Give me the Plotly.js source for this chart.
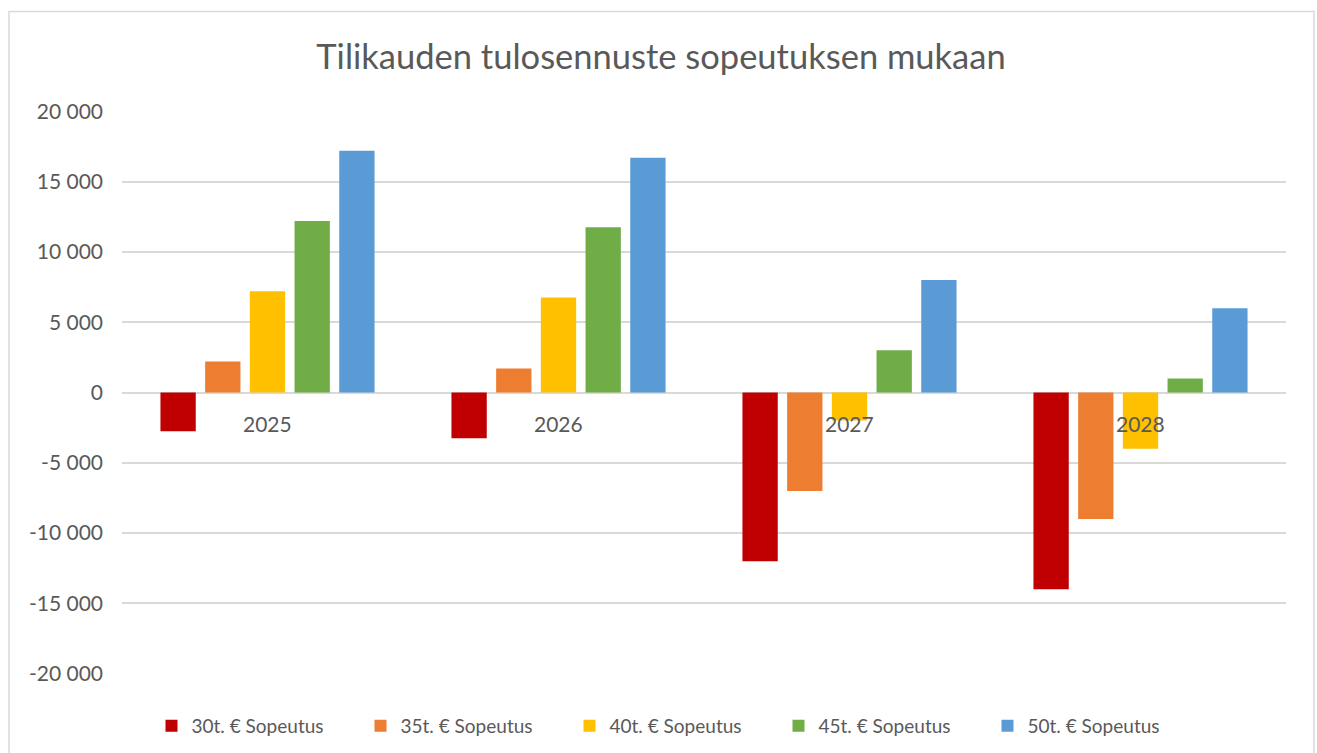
<!DOCTYPE html>
<html>
<head>
<meta charset="utf-8">
<script src="https://cdn.plot.ly/plotly-3.0.1.min.js"></script>
<style>
  html, body { margin: 0; padding: 0; background: #ffffff; }
  #chart { width: 1317px; height: 753px; }
</style>
</head>
<body>
<div id="chart"></div>
<script>
// Categories (years)
const categories = ['2025', '2026', '2027', '2028'];

// Series values
const sopeutus30 = [-2750, -3250, -12000, -14000];
const sopeutus35 = [2200, 1700, -7000, -9000];
const sopeutus40 = [7200, 6750, -2000, -4000];
const sopeutus45 = [12200, 11750, 3000, 1000];
const sopeutus50 = [17200, 16700, 8000, 6000];

// Series names
const seriesNames = ['30t. € Sopeutus', '35t. € Sopeutus', '40t. € Sopeutus', '45t. € Sopeutus', '50t. € Sopeutus'];

// Y tick labels
const yTickVals = [-20000, -15000, -10000, -5000, 0, 5000, 10000, 15000, 20000];
const yTickText = ['-20 000', '-15 000', '-10 000', '-5 000', '0', '5 000', '10 000', '15 000', '20 000'];

const colors = ['#C00000', '#ED7D31', '#FFC000', '#70AD47', '#5B9BD5'];
const seriesValues = [sopeutus30, sopeutus35, sopeutus40, sopeutus45, sopeutus50];

const FONT = 'Lato, "Open Sans", sans-serif';
const TEXT = '#595959';

const traces = seriesValues.map((vals, i) => ({
  type: 'bar',
  name: seriesNames[i],
  x: categories,
  y: vals,
  marker: { color: colors[i], line: { width: 0 } },
  hoverinfo: 'x+y+name'
}));

// category labels drawn at the zero line (category index positions)
const annotations = categories.map((c, i) => ({
  x: i, y: 0, xref: 'x', yref: 'y',
  text: c, showarrow: false,
  xanchor: 'center', yanchor: 'middle',
  yshift: -31,
  font: { family: FONT, size: 21, color: TEXT }
}));

const layout = {
  width: 1317,
  height: 753,
  paper_bgcolor: '#ffffff',
  plot_bgcolor: '#ffffff',
  margin: { l: 122, r: 31, t: 111, b: 79, pad: 0 },
  font: { family: FONT, color: TEXT },
  title: {
    text: 'Tilikauden tulosennuste sopeutuksen mukaan',
    font: { family: FONT, size: 34.5, color: TEXT },
    x: 661 / 1317, xanchor: 'center', xref: 'container',
    y: 1 - 57 / 753, yanchor: 'middle', yref: 'container'
  },
  barmode: 'group',
  bargap: 0.232,
  bargroupgap: 0.21,
  xaxis: {
    type: 'category',
    range: [-0.5, 3.5],
    showticklabels: false,
    showgrid: false,
    zeroline: false,
    showline: false,
    ticks: ''
  },
  yaxis: {
    range: [-20020, 20020],
    tickvals: yTickVals,
    ticktext: yTickText,
    tickfont: { family: FONT, size: 21, color: TEXT },
    showgrid: true,
    gridcolor: '#d9d9d9',
    gridwidth: 1.5,
    zeroline: true,
    zerolinecolor: '#d9d9d9',
    zerolinewidth: 1.5,
    showline: false,
    ticks: '',
    ticklabelstandoff: 18
  },
  legend: {
    orientation: 'h',
    xref: 'container', yref: 'container',
    x: 674 / 1317, xanchor: 'center',
    y: 1 - 726 / 753, yanchor: 'middle',
    font: { family: FONT, size: 19, color: TEXT },
    entrywidth: 164,
    entrywidthmode: 'pixels',
    itemclick: false,
    traceorder: 'normal'
  },
  annotations: annotations,
  shapes: [{
    type: 'rect', xref: 'paper', yref: 'paper',
    x0: (9 - 122) / 1164, x1: (1314 - 122) / 1164,
    y0: (673.7 - 770) / 562.4, y1: (673.7 - 12) / 562.4,
    line: { color: '#d9d9d9', width: 1.5 },
    fillcolor: 'rgba(0,0,0,0)',
    layer: 'below'
  }],
  showlegend: true
};

Plotly.newPlot('chart', traces, layout, { displayModeBar: false, responsive: false });
</script>
</body>
</html>
